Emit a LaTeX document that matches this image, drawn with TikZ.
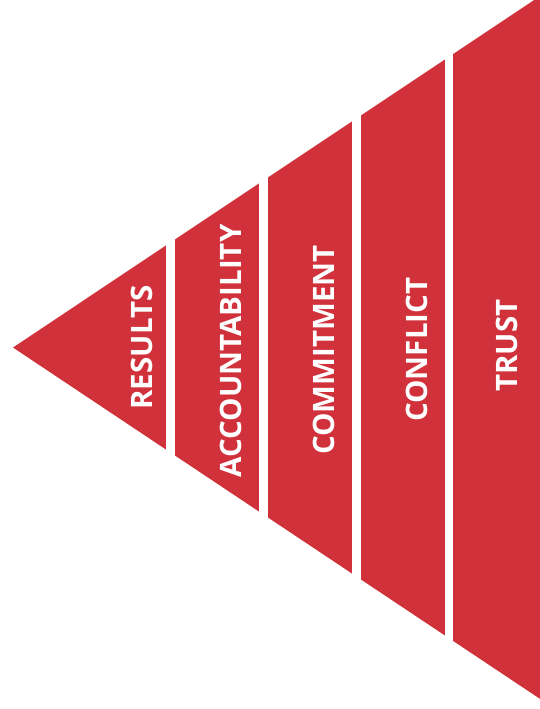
\documentclass[tikz,border=0pt]{standalone}
\usepackage{fontspec}
\setmainfont{Open Sans}
\definecolor{segred}{HTML}{D1313B}
\begin{document}
\begin{tikzpicture}[x=1pt,y=-1pt,
  lbl/.style={text=white,font=\bfseries\fontsize{29.5}{29.5}\selectfont,rotate=90,inner sep=0pt,anchor=center}]
\useasboundingbox (0,0) rectangle (540,709);
\begin{scope}
  \clip (13,347.5) -- (560,-17.2) -- (560,712.2) -- cycle;
  \fill[segred] (0,-20) rectangle (166,720);
  \fill[segred] (175,-20) rectangle (259,720);
  \fill[segred] (267.5,-20) rectangle (351.5,720);
  \fill[segred] (360.5,-20) rectangle (444.5,720);
  \fill[segred] (453.3,-20) rectangle (560,720);
\end{scope}
\node[lbl] (results) at (141.5,347.5) {RESULTS};
\node[lbl] (accountability) at (231,351) {ACCOUNTABILITY};
\node[lbl] (commitment) at (324,350) {COMMITMENT};
\node[lbl] (conflict) at (416.7,349.7) {CONFLICT};
\node[lbl] (trust) at (507,345.5) {TRUST};
\end{tikzpicture}
\end{document}
